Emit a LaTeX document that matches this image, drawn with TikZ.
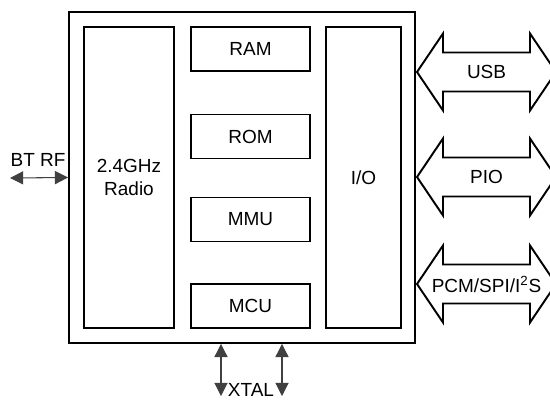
\documentclass[tikz,border=0pt]{standalone}
\usepackage{fontspec}
\setmainfont{Liberation Sans}
\usetikzlibrary{arrows.meta}

\begin{document}
\begin{tikzpicture}[x=0.02cm, y=-0.02cm,
    >={Triangle[length=7.5pt, width=7.5pt]},
    font=\fontsize{10.8}{13}\selectfont,
    box/.style={draw, line width=1.1pt, inner sep=0pt, align=center},
    sig/.style={<->, line width=0.6pt, draw=black!75}]
	\useasboundingbox (0,0) rectangle (550,399);
	\clip (0,0) rectangle (550,399);

	% --- Khung chip ---
	\node[box, minimum width=6.92cm, minimum height=6.62cm] (chip) at (242,177.5) {};

	% --- Khoi ben trong ---
	\node[box, minimum width=1.8cm, minimum height=6.02cm] (radio) at (129,177.5) {2.4GHz\\Radio};
	\node[box, minimum width=2.38cm, minimum height=0.88cm] (ram) at (250.5,49) {RAM};
	\node[box, minimum width=2.38cm, minimum height=0.88cm] (rom) at (250.5,136.5) {ROM};
	\node[box, minimum width=2.38cm, minimum height=0.88cm] (mmu) at (250.5,219.5) {MMU};
	\node[box, minimum width=2.38cm, minimum height=0.88cm] (mcu) at (250.5,306) {MCU};
	\node[box, minimum width=1.5cm, minimum height=6.02cm] (io) at (363.5,177.5) {I/O};

	% --- BT RF ---
	\coordinate (btrf) at (10,178);
	\node (btrflbl) at (38,160) {BT RF};
	\draw[sig] (btrf) -- (chip.west);

	% --- XTAL ---
	\coordinate (xa) at (221,396);
	\coordinate (xb) at (282,396);
	\draw[sig] (xa |- chip.south) -- (xa);
	\draw[sig] (xb |- chip.south) -- (xb);
	\node (xtal) at (251,390) {XTAL};

	% --- Mui ten bus ---
	\foreach \y/\name/\txt in {72/usb/USB, 177/pio/PIO, 284/pcm/{PCM/SPI/I\textsuperscript{2}S}} {
		\draw[line width=1.1pt, line join=miter]
			(417,\y) -- (443,\y-38.5) -- (443,\y-19.5) -- (530,\y-19.5) -- (530,\y-38.5)
			-- (556,\y) -- (530,\y+38.5) -- (530,\y+19.5) -- (443,\y+19.5) -- (443,\y+38.5) -- cycle;
		\node (\name) at (486.5,\y) {\txt};
	}

\end{tikzpicture}
\end{document}
